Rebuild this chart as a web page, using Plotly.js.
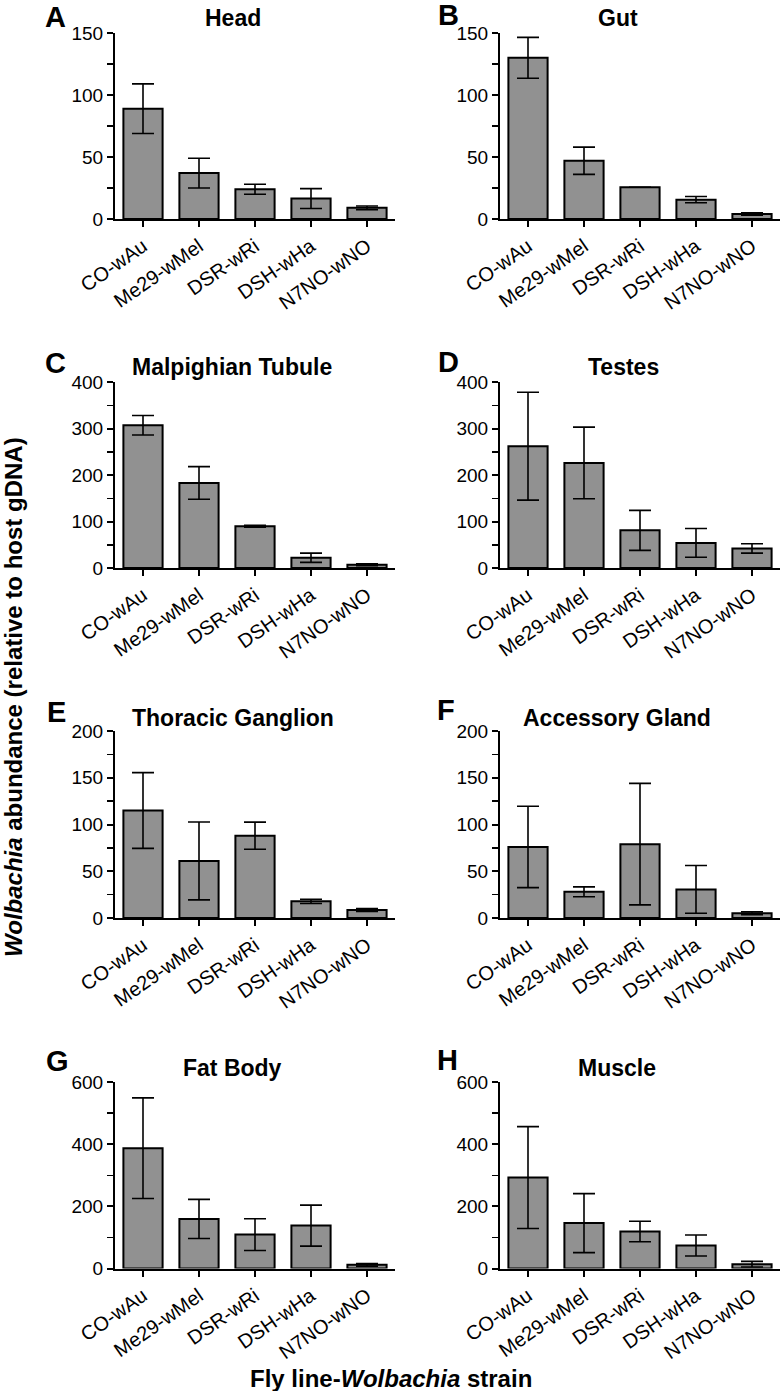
<!DOCTYPE html>
<html>
<head>
<meta charset="utf-8">
<script src="https://cdn.plot.ly/plotly-3.0.1.min.js"></script>
<style>html,body{margin:0;padding:0;background:#fff;}#chart{width:783px;height:1391px;}</style>
</head>
<body>
<div id="chart"></div>
<script>
// ---- data ----
const categories = ['CO-wAu', 'Me29-wMel', 'DSR-wRi', 'DSH-wHa', 'N7NO-wNO'];

const headMean = [89, 37, 24, 16.5, 9];
const headErr  = [20, 12, 4, 8, 1.5];

const gutMean = [130, 47, 25.6, 15.6, 4];
const gutErr  = [16.5, 11, 0, 2.5, 1];

const malpighianMean = [307, 183, 90, 22, 7];
const malpighianErr  = [21, 35, 2, 10, 2];

const testesMean = [262, 226, 81, 54, 42];
const testesErr  = [116, 77, 43, 31, 10];

const thoracicMean = [115, 61, 88, 17.8, 8.5];
const thoracicErr  = [40.5, 41.6, 14.5, 2.3, 1.5];

const accessoryMean = [76, 28, 79, 30.6, 5];
const accessoryErr  = [43.5, 5.3, 65, 25.6, 1.5];

const fatBodyMean = [387, 159.5, 109, 138, 11.8];
const fatBodyErr  = [162, 63, 51, 66, 4];

const muscleMean = [292.5, 146, 119, 74, 14];
const muscleErr  = [164, 95, 33, 34, 9];

const panelTitles  = ['Head', 'Gut', 'Malpighian Tubule', 'Testes', 'Thoracic Ganglion', 'Accessory Gland', 'Fat Body', 'Muscle'];
const panelLetters = ['A', 'B', 'C', 'D', 'E', 'F', 'G', 'H'];
const yMaxValues   = [150, 150, 400, 400, 200, 200, 600, 600];
const yTickSteps   = [50, 50, 100, 100, 50, 50, 200, 200];

const means = [headMean, gutMean, malpighianMean, testesMean, thoracicMean, accessoryMean, fatBodyMean, muscleMean];
const errs  = [headErr, gutErr, malpighianErr, testesErr, thoracicErr, accessoryErr, fatBodyErr, muscleErr];

// ---- layout geometry (pixels) ----
const W = 783, H = 1391;
const colX = [[115, 395], [500, 780]];
const rowY = [[33, 219], [382, 568], [731, 918], [1082, 1268.5]];
const titlePos  = [[233, 18], [618, 18], [232, 367], [623, 367], [233, 718], [617, 718], [232, 1068], [617, 1068]];
const letterPos = [[55, 17], [448, 15], [55, 363], [448, 362], [56, 712], [446, 710], [57, 1061], [447, 1060]];

const FONT = 'Liberation Sans, Arial, Helvetica, sans-serif';
const px = x => x / W;
const py = y => 1 - y / H;

const traces = [];
const layout = {
  width: W, height: H,
  margin: {l: 0, r: 0, t: 0, b: 0},
  paper_bgcolor: '#ffffff',
  plot_bgcolor: '#ffffff',
  showlegend: false,
  font: {family: FONT, color: '#000', size: 19},
  annotations: []
};

for (let i = 0; i < 8; i++) {
  const col = i % 2, row = Math.floor(i / 2);
  const n = i + 1;
  const xa = 'x' + (n === 1 ? '' : n), ya = 'y' + (n === 1 ? '' : n);
  traces.push({
    type: 'bar',
    x: categories,
    y: means[i],
    xaxis: xa, yaxis: ya,
    width: 0.7,
    marker: {color: '#919191', line: {color: '#000', width: 2}},
    error_y: {type: 'data', array: errs[i], visible: true, color: '#000', thickness: 1.6, width: 11},
    hoverinfo: 'skip'
  });
  const xk = 'xaxis' + (n === 1 ? '' : n), yk = 'yaxis' + (n === 1 ? '' : n);
  layout[xk] = {
    domain: [px(colX[col][0]), px(colX[col][1])],
    anchor: ya,
    type: 'category',
    range: [-0.5, 4.5],
    showline: true, linewidth: 2, linecolor: '#000',
    ticks: 'outside', ticklen: 6, tickwidth: 2, tickcolor: '#000',
    tickangle: -35,
    tickfont: {family: FONT, size: 20, color: '#000'},
    showgrid: false, zeroline: false, fixedrange: true
  };
  layout[yk] = {
    domain: [py(rowY[row][1]), py(rowY[row][0])],
    anchor: xa,
    range: [0, yMaxValues[i]],
    dtick: yTickSteps[i], tick0: 0,
    showline: true, linewidth: 2, linecolor: '#000',
    ticks: 'outside', ticklen: 6, tickwidth: 2, tickcolor: '#000',
    minor: {ticks: 'outside', ticklen: 6, tickwidth: 1.5, tickcolor: '#000', dtick: yTickSteps[i] / 2, showgrid: false},
    tickfont: {family: FONT, size: 19, color: '#000'},
    showgrid: false, zeroline: false, fixedrange: true
  };
  layout.annotations.push({
    xref: 'paper', yref: 'paper', x: px(titlePos[i][0]), y: py(titlePos[i][1]),
    xanchor: 'center', yanchor: 'middle', showarrow: false,
    text: '<b>' + panelTitles[i] + '</b>',
    font: {family: FONT, size: 23, color: '#000'}
  });
  layout.annotations.push({
    xref: 'paper', yref: 'paper', x: px(letterPos[i][0]), y: py(letterPos[i][1]),
    xanchor: 'center', yanchor: 'middle', showarrow: false,
    text: '<b>' + panelLetters[i] + '</b>',
    font: {family: FONT, size: 29, color: '#000'}
  });
}

layout.annotations.push({
  xref: 'paper', yref: 'paper', x: px(13), y: py(697),
  xanchor: 'center', yanchor: 'middle', showarrow: false, textangle: -90,
  text: '<b><i>Wolbachia</i> abundance (relative to host gDNA)</b>',
  font: {family: FONT, size: 24, color: '#000'}
});
layout.annotations.push({
  xref: 'paper', yref: 'paper', x: px(391), y: py(1378),
  xanchor: 'center', yanchor: 'middle', showarrow: false,
  text: '<b>Fly line-<i>Wolbachia</i> strain</b>',
  font: {family: FONT, size: 24, color: '#000'}
});

Plotly.newPlot('chart', traces, layout, {staticPlot: true, displayModeBar: false});
</script>
</body>
</html>
